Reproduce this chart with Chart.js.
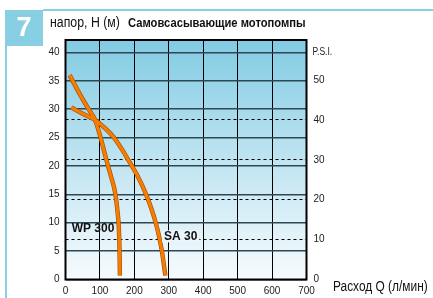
<!DOCTYPE html>
<html>
<head>
<meta charset="utf-8">
<script src="https://cdn.jsdelivr.net/npm/chart.js@4/dist/chart.umd.min.js"></script>
<style>
html,body{margin:0;padding:0;background:#fff;}
canvas{display:block;}
</style>
</head>
<body>
<canvas id="c" width="433" height="298"></canvas>
<script>
// ---- data ----
const WP_Q = [12, 42, 64, 86, 101, 119, 131, 145, 151, 155, 157, 158];
const WP_H = [36, 32.6, 30.3, 28.1, 25.2, 21, 18.4, 15, 12, 9, 5, 0.7];
const SA_Q = [17, 50, 86, 112, 138, 163, 182, 208, 234, 251, 262, 271, 280, 290];
const SA_H = [30.3, 29.2, 28.1, 26.8, 25.2, 23, 21.1, 18.4, 15, 12.2, 10, 7.8, 5, 0.7];
const X_TICKS = [0, 100, 200, 300, 400, 500, 600, 700];
const Y_TICKS = [0, 5, 10, 15, 20, 25, 30, 35, 40];
const PSI_TICKS = [0, 10, 20, 30, 40, 50];
const PSI_DASHED = [10, 20, 30, 40];
const PSI_PER_M = 1.4223;
const PSI_MAX = 60;
const SERIES_NAMES = ['WP 300', 'SA 30'];
const TITLE_LEFT = 'напор, Н (м)';
const TITLE_MAIN = 'Самовсасывающие мотопомпы';
const X_TITLE = 'Расход Q (л/мин)';
const PSI_LABEL = 'P.S.I.';
const BADGE = '7';

const toPts = (qs, hs) => qs.map((q, i) => ({x: q, y: hs[i]}));
const SANS = '"Liberation Sans", Arial, sans-serif';
const BLUE = '#89cfe4';

function condensedText(ctx, text, x, y, font, sx) {
  ctx.save();
  ctx.font = font;
  ctx.textAlign = 'left';
  ctx.textBaseline = 'middle';
  ctx.translate(x, y);
  ctx.scale(sx, 1);
  ctx.fillText(text, 0, 0);
  ctx.restore();
}

const decor = {
  id: 'decor',
  beforeDraw(chart) {
    const {ctx, chartArea: a} = chart;
    ctx.save();
    ctx.fillStyle = BLUE;
    ctx.fillRect(5, 10, 38, 36);
    ctx.fillRect(43, 9, 390, 2);
    ctx.fillRect(5, 46, 2, 252);
    ctx.fillStyle = '#fff';
    ctx.font = 'bold 27px ' + SANS;
    ctx.textAlign = 'center';
    ctx.textBaseline = 'middle';
    ctx.fillText(BADGE, 24, 29);
    ctx.fillStyle = '#111';
    condensedText(ctx, TITLE_LEFT, 50, 23, '14px ' + SANS, 0.88);
    condensedText(ctx, TITLE_MAIN, 128, 23, 'bold 13.5px ' + SANS, 0.83);
    const g = ctx.createLinearGradient(0, a.top, 0, a.bottom);
    g.addColorStop(0, '#82cbe3');
    g.addColorStop(0.5, '#bfe4f1');
    g.addColorStop(1, '#f7fbfd');
    ctx.fillStyle = g;
    ctx.fillRect(a.left, a.top, a.right - a.left, a.bottom - a.top);
    ctx.restore();
  },
  beforeDatasetsDraw(chart) {
    const {ctx, chartArea: a} = chart;
    ctx.save();
    ctx.strokeStyle = '#000';
    ctx.lineWidth = 2;
    ctx.strokeRect(a.left, a.top, a.right - a.left, a.bottom - a.top);
    ctx.restore();
  },
  afterDatasetsDraw(chart) {
    const {ctx, chartArea: a} = chart;
    const xs = chart.scales.x, ys = chart.scales.y;
    ctx.save();
    ctx.textBaseline = 'middle';
    ctx.textAlign = 'left';
    ctx.font = 'bold 12px ' + SANS;
    ctx.fillStyle = '#111';
    ctx.fillText(SERIES_NAMES[0], xs.getPixelForValue(18), ys.getPixelForValue(9.0));
    const sx = xs.getPixelForValue(286), sy = ys.getPixelForValue(7.6);
    const w = ctx.measureText(SERIES_NAMES[1]).width;
    ctx.fillStyle = '#e9f5fa';
    ctx.fillRect(sx - 2, sy - 6, w + 4, 12);
    ctx.fillStyle = '#111';
    ctx.fillText(SERIES_NAMES[1], sx, sy);
    ctx.fillStyle = '#222';
    condensedText(ctx, PSI_LABEL, a.right + 6, ys.getPixelForValue(40), '10px ' + SANS, 0.85);
    ctx.fillStyle = '#111';
    condensedText(ctx, X_TITLE, 333, 287, '14px ' + SANS, 0.85);
    ctx.restore();
  }
};

new Chart(document.getElementById('c'), {
  type: 'line',
  data: {
    datasets: [
      {label: SERIES_NAMES[0], data: toPts(WP_Q, WP_H), borderColor: '#f77d00', borderWidth: 3.2, order: 0},
      {label: SERIES_NAMES[1], data: toPts(SA_Q, SA_H), borderColor: '#f77d00', borderWidth: 3.2, order: 0},
      {label: SERIES_NAMES[0] + ' edge', data: toPts(WP_Q, WP_H), borderColor: '#a14c08', borderWidth: 4.4, order: 1},
      {label: SERIES_NAMES[1] + ' edge', data: toPts(SA_Q, SA_H), borderColor: '#a14c08', borderWidth: 4.4, order: 1}
    ]
  },
  options: {
    responsive: false,
    devicePixelRatio: 1,
    animation: false,
    events: [],
    layout: {padding: {top: 40, left: 0, right: 0, bottom: 0}},
    elements: {point: {radius: 0}, line: {cubicInterpolationMode: 'monotone', fill: false}},
    plugins: {legend: {display: false}, tooltip: {enabled: false}, title: {display: false}},
    scales: {
      x: {
        type: 'linear', min: 0, max: 700,
        afterBuildTicks: s => { s.ticks = X_TICKS.map(v => ({value: v})); },
        afterFit: s => { s.height = 18.5; },
        grid: {color: '#000', lineWidth: 1, drawTicks: false},
        border: {display: false},
        ticks: {padding: 6, font: {family: SANS, size: 10}, color: '#222', maxRotation: 0}
      },
      y: {
        type: 'linear', min: 0, max: PSI_MAX / PSI_PER_M, position: 'left',
        afterBuildTicks: s => { s.ticks = Y_TICKS.map(v => ({value: v})); },
        afterFit: s => { s.width = 65.5; },
        grid: {color: '#2c4853', lineWidth: 1.6, drawTicks: false},
        border: {display: false},
        ticks: {padding: 6, font: {family: SANS, size: 10}, color: '#222'}
      },
      y2: {
        type: 'linear', min: 0, max: PSI_MAX, position: 'right',
        afterBuildTicks: s => { s.ticks = PSI_TICKS.map(v => ({value: v})); },
        afterFit: s => { s.width = 126.5; },
        grid: {
          drawTicks: false, lineWidth: 1,
          color: c => (c.tick && PSI_DASHED.includes(c.tick.value)) ? '#000' : 'rgba(0,0,0,0)'
        },
        border: {display: false, dash: [3, 3]},
        ticks: {padding: 7, font: {family: SANS, size: 10}, color: '#222'}
      }
    }
  },
  plugins: [decor]
});
</script>
</body>
</html>
